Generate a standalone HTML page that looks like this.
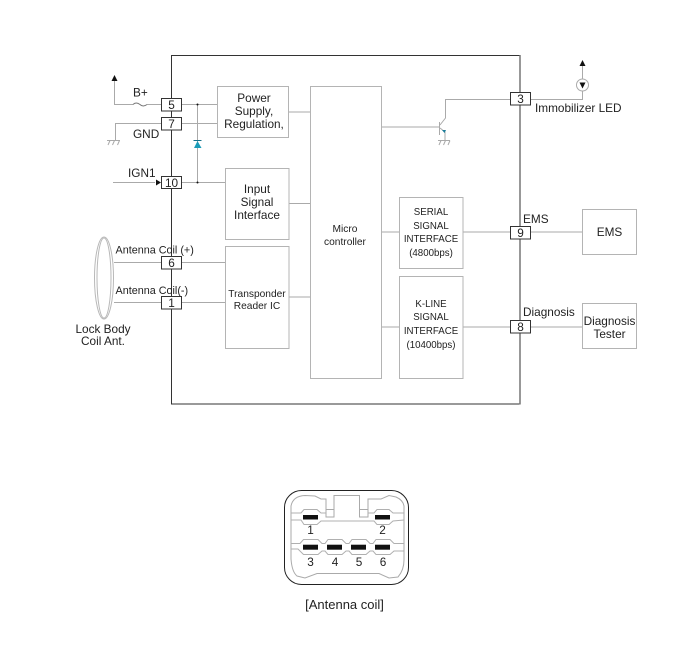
<!DOCTYPE html>
<html><head><meta charset="utf-8"><style>
html,body{margin:0;padding:0;background:#fff}
svg{display:block}
text{font-family:"Liberation Sans",sans-serif;fill:#222;font-size:11.800px}
.g{fill:none;stroke:#aaa;stroke-width:1}
.b{fill:#fff;stroke:#b4b4b4;stroke-width:1}
.p{fill:#fff;stroke:#333;stroke-width:1}
.c{fill:none;stroke:#b8b8b8;stroke-width:1}
.d{fill:#111;stroke:none}
.s{font-size:9.700px}
.a{font-size:10.800px}
.t{font-size:10.200px}
</style></head><body>
<svg width="700" height="671" viewBox="0 0 700 671" xmlns="http://www.w3.org/2000/svg">
<rect x="171.500" y="55.500" width="348.500" height="348.500" fill="none" stroke="#333" stroke-width="1"/>
<path d="M520 55V404.500" stroke="#777" stroke-width="1.500" fill="none"/>
<!-- wires -->
<path class="g" d="M114.500 81V104.500H133M147 104.500H161.500M181.500 104.500H217.500M181.500 123.500H217.500M161.500 123.500H115.500V140M197.500 104.500V182M113 182.500H155M181.500 182.500H225M288.500 112H310M289 130H289M289 203.500H310M289 297H310M381 127H439M381 232H399M381 327H399M463 232H510M463 327H510M530 232H582.500M530 327H582.500M530 99.500H582.500V66M114 262.500H161.500M181.500 262.500H225M114 302.500H161.500M181.500 302.500H225"/>
<path class="g" d="M440 125L445.500 118V99.500H510M439.500 122V135M440 128L445 132V140"/>
<path class="g" d="M107 140.500H120M110 140.500L108 145M114.500 140.500L112.500 145M119.500 140.500L117.500 145M438 140.500H450M441 140.500L439 145M445.500 140.500L443.500 145M450 140.500L448 145"/>
<path d="M133 104.500Q136 101.500 140 104.500Q143 107.500 147 104.500" fill="none" stroke="#777"/>
<circle class="d" cx="197.500" cy="104.500" r="1"/><circle class="d" cx="197.500" cy="182.500" r="1"/>
<path d="M194 148L197.500 141L201.500 148Z" fill="#1a9cb8"/><path d="M193.500 140.500H201.500" stroke="#16708a"/>
<path class="d" d="M114.500 75L111.500 81H117.500ZM156 179.500L161 182.500L156 185.500ZM582.500 60L579.500 66H585.500ZM579.500 82H585.500L582.500 88Z"/>
<circle cx="582.500" cy="85" r="6" fill="#fff" stroke="#aaa"/>
<path class="d" d="M579.500 82.500H585.500L582.500 88.500Z"/>
<path d="M444.500 133L442 130L446 130Z" fill="#1a7c98"/>
<!-- coil -->
<ellipse cx="104" cy="278" rx="9.500" ry="41" class="c"/>
<ellipse cx="104" cy="278" rx="7" ry="40" class="c"/>
<!-- boxes -->
<rect class="b" x="217.500" y="86.500" width="71" height="51"/>
<rect class="b" x="225.500" y="168.500" width="63.500" height="71"/>
<rect class="b" x="225.500" y="246.500" width="63.500" height="102"/>
<rect class="b" x="310.500" y="86.500" width="71" height="292"/>
<rect class="b" x="399.500" y="197.500" width="63.500" height="71"/>
<rect class="b" x="399.500" y="276.500" width="63.500" height="102"/>
<rect class="b" x="582.500" y="209.500" width="54" height="45"/>
<rect class="b" x="582.500" y="303.500" width="54" height="45"/>
<!-- pins -->
<rect class="p" x="161.500" y="98.500" width="20" height="12.500"/>
<rect class="p" x="161.500" y="117.500" width="20" height="12.500"/>
<rect class="p" x="161.500" y="176.500" width="20" height="12"/>
<rect class="p" x="161.500" y="256.500" width="20" height="12.500"/>
<rect class="p" x="161.500" y="296.500" width="20" height="12.500"/>
<rect class="p" x="510.500" y="92.500" width="20" height="12.500"/>
<rect class="p" x="510.500" y="226.500" width="20" height="12.500"/>
<rect class="p" x="510.500" y="320.500" width="20" height="12.500"/>
<g text-anchor="middle">
<text x="171.500" y="109">5</text><text x="171.500" y="128">7</text><text x="171.500" y="187">10</text>
<text x="171.500" y="267">6</text><text x="171.500" y="307">1</text>
<text x="520.500" y="103">3</text><text x="520.500" y="237">9</text><text x="520.500" y="331">8</text>
<text x="254" y="102">Power</text><text x="254" y="115">Supply,</text><text x="254" y="128">Regulation,</text>
<text x="257" y="193">Input</text><text x="257" y="206">Signal</text><text x="257" y="219">Interface</text>
<text x="257" y="297" class="t">Transponder</text><text x="257" y="309" class="t">Reader IC</text>
<text x="345" y="232" class="t">Micro</text><text x="345" y="245" class="t">controller</text>
<text x="431" y="215" class="s">SERIAL</text><text x="431" y="229" class="s">SIGNAL</text><text x="431" y="242" class="s">INTERFACE</text><text x="431" y="256" class="s">(4800bps)</text>
<text x="431" y="307" class="s">K-LINE</text><text x="431" y="320" class="s">SIGNAL</text><text x="431" y="334" class="s">INTERFACE</text><text x="431" y="348" class="s">(10400bps)</text>
<text x="609.500" y="236">EMS</text>
<text x="609.500" y="325">Diagnosis</text><text x="609.500" y="338">Tester</text>
<text x="103" y="333">Lock Body</text><text x="103" y="345">Coil Ant.</text>
</g>
<text x="133" y="96.500">B+</text>
<text x="133" y="138">GND</text>
<text x="128" y="177">IGN1</text>
<text x="115.500" y="253.500" class="a">Antenna Coil (+)</text>
<text x="115.500" y="294" class="a">Antenna Coil(-)</text>
<text x="535" y="112">Immobilizer LED</text>
<text x="523" y="223">EMS</text>
<text x="523" y="316">Diagnosis</text>
<!-- connector -->
<rect x="284.500" y="490.500" width="124" height="94" rx="17" fill="none" stroke="#222"/>
<path d="M291 559V506Q293 496 305 495.500L315 496L321 499H326V517H334V495.500H359.500V517H368V499H381L389 495.500L396 497Q403 500 404 506V560Q404 570 398 577L389 578L379 573.500H317L305 578L297 576Q292 572 291 559Z" fill="none" stroke="#aaa"/>
<path d="M326 509.500H334M359.500 509.500H368" fill="none" stroke="#aaa"/>
<path d="M291 513H301L304 509.500H317L321 513H326M368 513H374L377 509.500H389L393 513H404M291 520H301L304 524.500H317L321 521H374L377 524.500H389L393 521L404 520M291 543.500H300L303.500 539.500H318L322 543.500H325L328 539.500H342L346 543.500H349L352 539.500H366L370 543.500H373L376 539.500H390L394 543.500H404M291 549H298L303.500 554.500H318L322 551H325L328 554.500H342L346 551H349L352 554.500H366L370 551H373L376 554.500H390L394 551H404" fill="none" stroke="#b0b0b0"/>
<rect class="d" x="303" y="515" width="15" height="4.500"/>
<rect class="d" x="375" y="515" width="15" height="4.500"/>
<rect class="d" x="303" y="544.700" width="15" height="5"/>
<rect class="d" x="327" y="544.700" width="15" height="5"/>
<rect class="d" x="351" y="544.700" width="15" height="5"/>
<rect class="d" x="375" y="544.700" width="15" height="5"/>
<g text-anchor="middle">
<text x="310.500" y="534">1</text><text x="382.500" y="534">2</text>
<text x="310.500" y="566">3</text><text x="335" y="566">4</text><text x="359" y="566">5</text><text x="383" y="566">6</text>
<text x="344.500" y="609" style="font-size:13px">[Antenna coil]</text>
</g>
</svg>
</body></html>
